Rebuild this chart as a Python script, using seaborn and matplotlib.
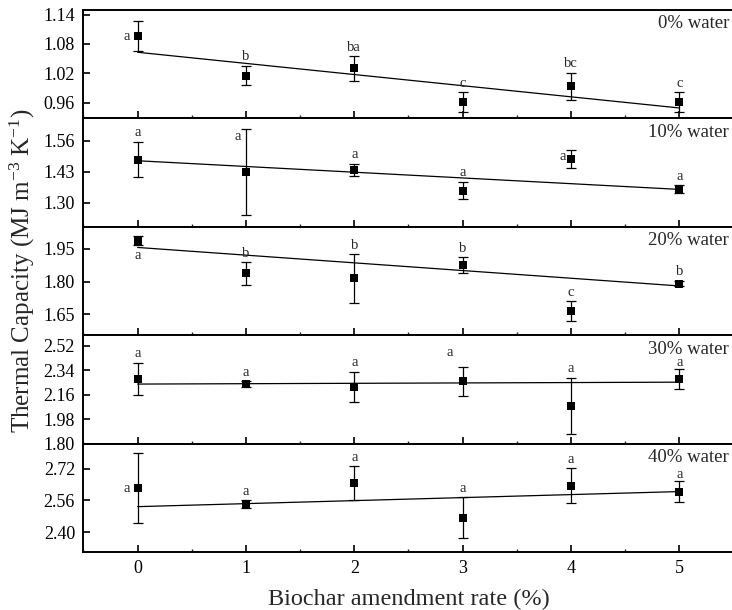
import numpy as np
import pandas as pd
import matplotlib
matplotlib.use("Agg")
import matplotlib.pyplot as plt
import seaborn as sns
from matplotlib.ticker import MultipleLocator, FormatStrFormatter

# biochar amendment rates (%)
rates = [0, 1, 2, 3, 4, 5]
water_labels = ["0% water", "10% water", "20% water", "30% water", "40% water"]

# 0% water
mean_w0 = [1.096, 1.015, 1.030, 0.961, 0.993, 0.961]
err_w0 = [0.030, 0.020, 0.025, 0.020, 0.028, 0.020]
fit_w0 = [1.063, 0.949]
let_w0 = ["a", "b", "ba", "c", "bc", "c"]
pos_w0 = ["w", "n", "n", "n", "n", "n"]
ticks_w0 = [0.96, 1.02, 1.08, 1.14]
lim_w0 = (0.928, 1.150)

# 10% water
mean_w10 = [1.481, 1.428, 1.438, 1.351, 1.484, 1.356]
err_w10 = [0.075, 0.180, 0.025, 0.036, 0.038, 0.017]
fit_w10 = [1.476, 1.356]
let_w10 = ["a", "a", "a", "a", "a", "a"]
pos_w10 = ["n", "nw", "n", "n", "nw", "n"]
ticks_w10 = [1.30, 1.43, 1.56]
lim_w10 = (1.200, 1.654)

# 20% water
mean_w20 = [1.987, 1.837, 1.814, 1.875, 1.665, 1.791]
err_w20 = [0.022, 0.052, 0.111, 0.036, 0.044, 0.012]
fit_w20 = [1.956, 1.780]
let_w20 = ["a", "b", "b", "b", "c", "b"]
pos_w20 = ["s", "n", "n", "n", "n", "n"]
ticks_w20 = [1.65, 1.80, 1.95]
lim_w20 = (1.555, 2.051)

# 30% water
mean_w30 = [2.278, 2.239, 2.217, 2.258, 2.079, 2.275]
err_w30 = [0.118, 0.019, 0.113, 0.108, 0.205, 0.074]
fit_w30 = [2.239, 2.253]
let_w30 = ["a", "a", "a", "a", "a", "a"]
pos_w30 = ["n", "n", "n", "nnw", "n", "nlow"]
ticks_w30 = [1.80, 1.98, 2.16, 2.34, 2.52]
lim_w30 = (1.800, 2.600)

# 40% water
mean_w40 = [2.622, 2.541, 2.647, 2.473, 2.635, 2.605]
err_w40 = [0.178, 0.019, 0.085, 0.104, 0.088, 0.053]
fit_w40 = [2.529, 2.605]
let_w40 = ["a", "a", "a", "a", "a", "a"]
pos_w40 = ["w", "n", "n", "n", "n", "nlow"]
ticks_w40 = [2.40, 2.56, 2.72]
lim_w40 = (2.300, 2.847)

panels = [
    (mean_w0, err_w0, fit_w0, let_w0, pos_w0, ticks_w0, lim_w0),
    (mean_w10, err_w10, fit_w10, let_w10, pos_w10, ticks_w10, lim_w10),
    (mean_w20, err_w20, fit_w20, let_w20, pos_w20, ticks_w20, lim_w20),
    (mean_w30, err_w30, fit_w30, let_w30, pos_w30, ticks_w30, lim_w30),
    (mean_w40, err_w40, fit_w40, let_w40, pos_w40, ticks_w40, lim_w40),
]

# letter placement: anchor (mean / top / bottom of bar) and offset in points
letter_place = {
    "n": ("top", (0, 6.5)),
    "nlow": ("top", (0, 4.5)),
    "s": ("bottom", (0, -7)),
    "w": ("mean", (-8, 0)),
    "nw": ("top", (-6, -5)),
    "nnw": ("top", (-9.5, 10)),
}

sns.set_theme(style="ticks")
plt.rcParams["font.family"] = ["Liberation Serif", "DejaVu Serif"]
plt.rcParams["mathtext.default"] = "regular"

fig, axes = plt.subplots(5, 1, figsize=(7.32, 6.10), dpi=100, sharex=True)
fig.subplots_adjust(left=0.114, right=1.002, top=0.984, bottom=0.095, hspace=0)

for ax, label, (means, errs, fit, lets, pos, ticks, lim) in zip(axes, water_labels, panels):
    df = pd.DataFrame({"rate": rates, "tc": means, "err": errs})
    fit_df = pd.DataFrame({"rate": [rates[0], rates[-1]], "tc": fit})

    sns.lineplot(data=fit_df, x="rate", y="tc", color="black", linewidth=0.9, ax=ax, zorder=1)
    ax.errorbar(df["rate"], df["tc"], yerr=df["err"], fmt="none", ecolor="black",
                elinewidth=0.9, capsize=3.8, capthick=0.9, zorder=2)
    sns.scatterplot(data=df, x="rate", y="tc", marker="s", s=30, color="black",
                    edgecolor="black", linewidth=0, ax=ax, zorder=3)

    for x, m, e, t, p in zip(rates, means, errs, lets, pos):
        anchor, off = letter_place[p]
        y = {"top": m + e, "bottom": m - e, "mean": m}[anchor]
        ax.annotate(t, (x, y), xytext=off, textcoords="offset points",
                    ha="center", va="center", fontsize=10.5)

    ax.annotate(label, (1, 1), xycoords="axes fraction", xytext=(-3.2, -10),
                textcoords="offset points", ha="right", va="center", fontsize=13.5)

    ax.set_ylim(*lim)
    ax.set_yticks(ticks)
    ax.yaxis.set_major_formatter(FormatStrFormatter("%.2f"))
    ax.set_ylabel("")
    ax.set_xlabel("")
    for s in ax.spines.values():
        s.set_linewidth(1.4)
        s.set_color("black")
    ax.tick_params(axis="both", which="major", direction="in", length=5, width=1.2,
                   labelsize=13, pad=6, colors="black", top=False, right=False)
    ax.xaxis.set_minor_locator(MultipleLocator(0.5))
    ax.tick_params(axis="x", which="minor", direction="in", length=2.5, width=1, top=False)

axes[-1].set_xlim(-0.5, 5.5)
axes[-1].set_xticks(rates)
axes[-1].set_xlabel("Biochar amendment rate (%)", fontsize=17.5, labelpad=8)

fig.text(22 / 732, 1 - 271 / 610, r"Thermal Capacity (MJ m$^{-3}$ K$^{-1}$)",
         rotation=90, ha="center", va="center", fontsize=18)

fig.savefig("out.png", dpi=100)
